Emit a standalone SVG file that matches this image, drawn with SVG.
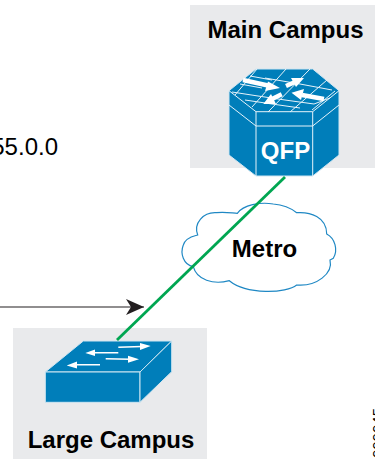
<svg xmlns="http://www.w3.org/2000/svg" width="375" height="459" viewBox="0 0 375 459">
<style>
text{font-family:"Liberation Sans",Arial,sans-serif;font-size:24px;fill:#000}
.b{font-weight:bold}
.bg{fill:#e9eaec}
.face{fill:#007eba;stroke:#cfe6f2;stroke-width:1;stroke-linejoin:round}
.g{stroke:#e6f3fa;stroke-width:1;fill:none}
.w{stroke:#fff;fill:none}
.h{fill:#fff}
</style>
<defs>
<marker id="ah" markerUnits="userSpaceOnUse" markerWidth="20" markerHeight="16" refX="18" refY="8" orient="auto"><path d="M0 0L18 8L0 16L5 8Z" fill="#231f20"/></marker>
</defs>
<rect width="375" height="459" fill="#fff"/>
<g id="main-campus">
<rect class="bg" x="190" y="5" width="185" height="163"/>
<path class="face" d="M256 69H312.700L339 90.700V155L312.700 176H256L229 155V90.700Z"/>
<path class="g" d="M229 90.700L256 111.700H312.700L339 90.700M256 111.700V176M312.700 111.700V176M229 105L256 126H312.700L339 105"/>
<path class="g" d="M235 95L257 69M252 107L286 69M268 112L310 69M290 112L327 80M312 110L335 91M240 84L262 88M250 76L272 80M232 92L258 96L285 100L314 104L330 98M245 100L272 104L300 108M265 78L300 84L332 90"/>
<path class="w" stroke-width="4.500" d="M243 80L268 85.500M286 86L295 82M281.700 94.300L272 99M324 99L302 95"/>
<path class="h" d="M280 88L265 91L268 81.500ZM304 78L291 78L296 87ZM263.300 104L276 104L271 94ZM291.500 92.700L304 89L301 100Z"/>
<text class="b" x="285.500" y="38" text-anchor="middle">Main Campus</text>
<text class="b" x="285.500" y="159" text-anchor="middle" style="fill:#fff">QFP</text>
</g>
<g id="large-campus">
<rect class="bg" x="13" y="328" width="194" height="131"/>
<path class="face" d="M83.300 341H171.700L140 372H45.300Z"/>
<path class="face" d="M45.300 372H140V402.300H45.300Z"/>
<path class="face" d="M140 372L171.700 341V371.700L140 402.300Z"/>
<path class="w" stroke-width="1.500" d="M118.300 347.300L142 346.500M118.300 352.700H94M105.700 358.700L130 359.300M100 364.700H76"/>
<path class="h" d="M150.700 346L140 343V350ZM85.300 353L95 349.500V356ZM139 359.300L128 355.800V362.800ZM66.700 365.500L77 361.500V368.500Z"/>
<text class="b" x="111" y="448" text-anchor="middle">Large Campus</text>
</g>
<g id="metro">
<path d="M193.300 266.700C183.300 265 180 253.300 183.300 245C186 236.700 195 236 197.700 235C193.300 223.300 203.300 211.700 216.700 212.700C225 211.700 233.300 213.300 237.300 213.300C243.300 205 260 201.700 273.300 204C285 205 293.300 210 296.700 212.700C310 211.700 326.700 216.700 326.700 234C335 238.300 338.300 250 333.300 258.300L330 260C333.300 273.300 316.700 286.700 296.700 285C286.700 293.300 246.700 295 229.300 280.700C213.300 285 196.700 280 193.300 266.700Z" fill="#fff" stroke="#1f88c4" stroke-width="1.200"/>
<text class="b" x="264.500" y="257" text-anchor="middle">Metro</text>
</g>
<g id="connectors">
<line x1="285" y1="177" x2="117" y2="340" stroke="#00a651" stroke-width="2.800"/>
<line x1="0" y1="307" x2="144" y2="307" stroke="#231f20" stroke-width="1.200" marker-end="url(#ah)"/>
</g>
<text x="58" y="155" text-anchor="end">55.0.0</text>
<text transform="translate(383 408) rotate(-90)" text-anchor="end" style="font-size:15px">000045</text>
</svg>
